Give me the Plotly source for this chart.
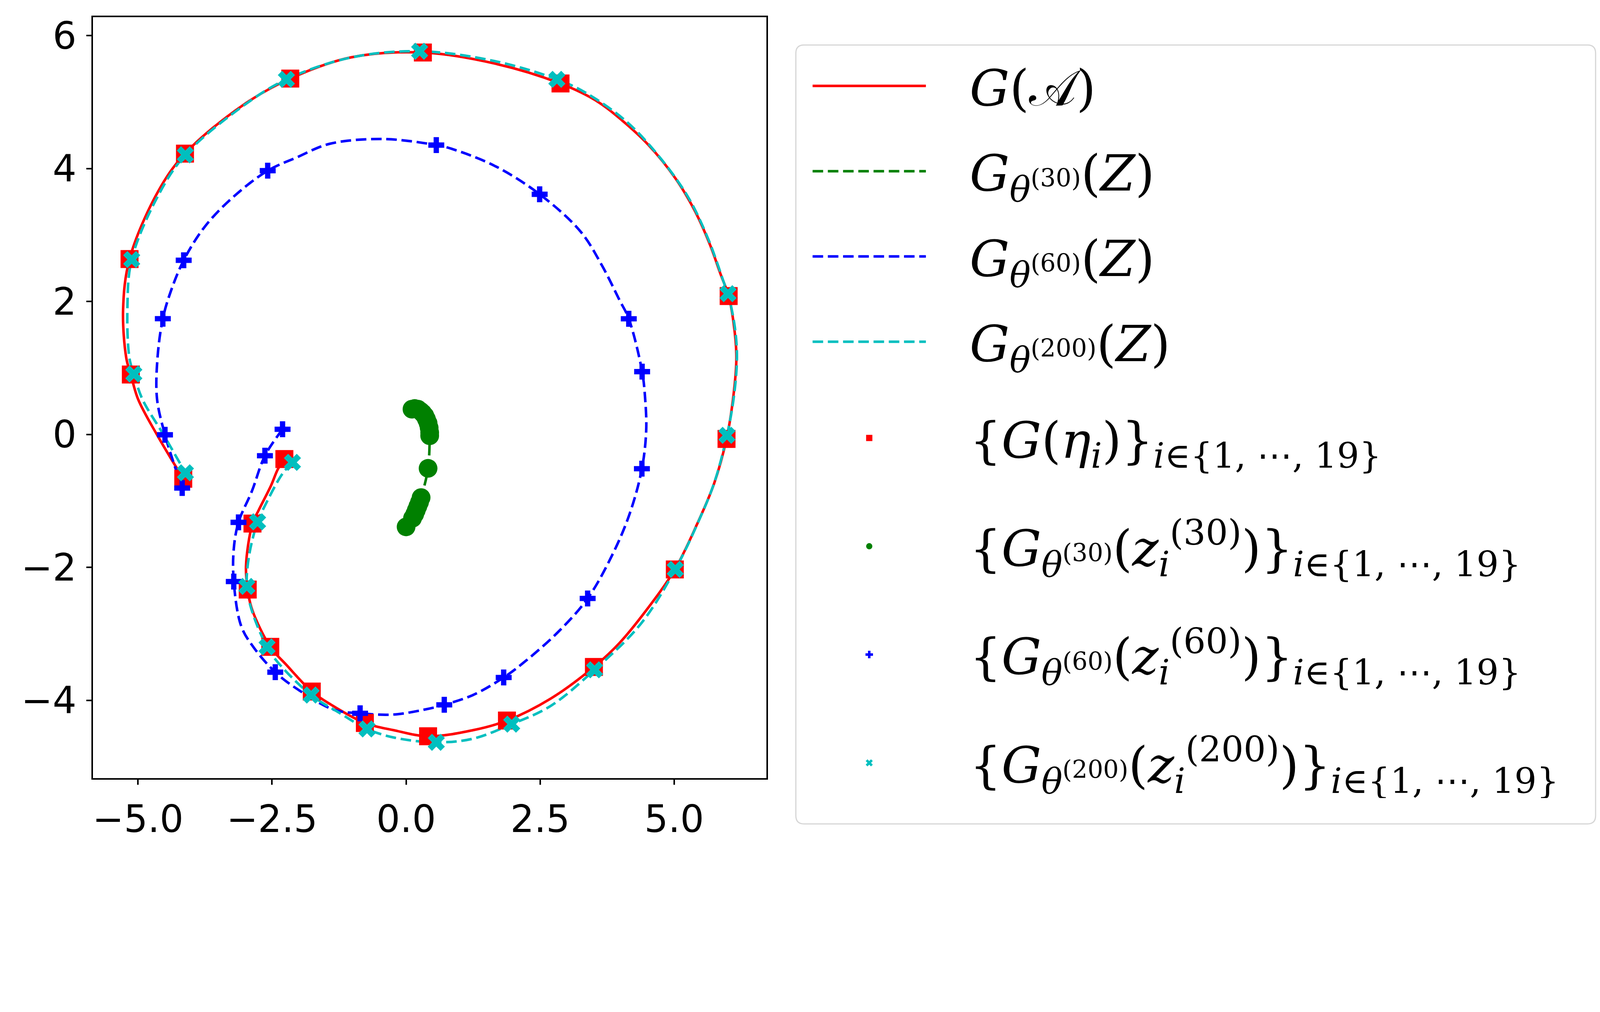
import plotly.graph_objects as go

# G(A): true curve (red, solid)
true_x = [-2.27, -2.39, -2.52, -2.75, -2.865, -2.986, -2.954, -2.874, -2.533, -2.232, -1.759, -1.43,
          -0.769, -0.229, 0.41, 1.246, 1.881, 2.692, 3.503, 3.977, 4.459, 5.012, 5.422, 5.744, 5.976,
          6.10, 6.16, 6.12, 6.016, 5.867, 5.667, 5.39, 5.02, 4.52, 4.02, 3.525, 2.852, 1.65, 0.313,
          -1.03, -2.16, -3.034, -4.124, -4.637, -5.158, -5.278, -5.218, -5.134, -5.0, -4.64, -4.156]
true_y = [-0.37, -0.52, -0.77, -1.14, -1.34, -1.976, -2.333, -2.63, -3.195, -3.467, -3.867, -4.05,
          -4.34, -4.449, -4.54, -4.449, -4.304, -3.976, -3.497, -3.14, -2.667, -2.031, -1.358, -0.74, -0.067,
          0.55, 1.15, 1.6, 2.082, 2.407, 2.856, 3.356, 3.856, 4.355, 4.73, 5.03, 5.287, 5.58, 5.745,
          5.672, 5.354, 4.958, 4.225, 3.638, 2.638, 1.879, 1.146, 0.901, 0.533, -0.013, -0.667]

# G_theta(30)(Z) (green, dashed)
g30_x = [0.11, 0.16, 0.22, 0.27, 0.31, 0.35, 0.38, 0.41, 0.43, 0.44, 0.44, 0.41,
         0.28, 0.25, 0.22, 0.19, 0.16, 0.12, 0.0]
g30_y = [0.38, 0.39, 0.38, 0.35, 0.32, 0.28, 0.23, 0.17, 0.10, 0.03, -0.02, -0.51,
         -0.95, -1.02, -1.08, -1.14, -1.20, -1.26, -1.39]

# G_theta(60)(Z) (blue, dashed)
g60_x = [-2.304, -2.633, -2.874, -3.126, -3.214, -3.214, -3.074, -2.834, -2.44, -2.03, -1.351, -0.858,
         -0.229, 0.443, 0.712, 1.246, 1.82, 2.25, 2.852, 3.386, 3.856, 4.177, 4.398, 4.478, 4.459,
         4.402, 4.153, 3.977, 3.655, 3.254, 2.491, 1.648, 0.845, 0.563, -0.429, -1.431, -2.032,
         -2.581, -3.234, -3.755, -4.148, -4.396, -4.537, -4.637, -4.645, -4.497, -4.356, -4.176]
g60_y = [0.078, -0.32, -0.849, -1.322, -1.722, -2.213, -2.886, -3.213, -3.576, -3.83, -4.14, -4.195,
         -4.213, -4.122, -4.067, -3.92, -3.656, -3.394, -2.958, -2.467, -1.795, -1.176, -0.515, 0.06, 0.533,
         0.945, 1.74, 2.026, 2.539, 3.052, 3.613, 4.042, 4.298, 4.353, 4.444, 4.371, 4.17,
         3.968, 3.565, 3.125, 2.62, 2.136, 1.741, 1.146, 0.533, -0.005, -0.376, -0.806]

# G_theta(200)(Z) (cyan, dashed)
g200_x = [-2.12, -2.31, -2.63, -2.77, -2.93, -2.97, -2.87, -2.593, -2.39, -1.771, -1.23, -0.729,
          -0.229, 0.563, 1.246, 1.969, 2.692, 3.515, 4.378, 5.02, 5.43, 5.75, 5.984, 6.11, 6.17,
          6.13, 6.004, 5.94, 5.64, 5.27, 4.77, 4.12, 3.35, 2.812, 1.63, 0.253, -1.03, -2.232, -3.06,
          -4.117, -4.62, -5.118, -5.198, -5.16, -5.078, -4.92, -4.517, -4.116]
g200_y = [-0.42, -0.595, -1.067, -1.315, -1.83, -2.286, -2.667, -3.195, -3.43, -3.92, -4.195, -4.43,
          -4.559, -4.631, -4.577, -4.358, -4.086, -3.54, -2.849, -2.03, -1.35, -0.72, -0.013, 0.55, 1.15,
          1.62, 2.117, 2.256, 2.93, 3.556, 4.13, 4.70, 5.14, 5.342, 5.62, 5.764, 5.67, 5.342, 4.93,
          4.206, 3.6, 2.631, 1.88, 1.15, 0.909, 0.533, -0.013, -0.577]

# sample points, i = 1..19
eta_x = [-2.27, -2.865, -2.954, -2.533, -1.759, -0.769, 0.41, 1.881, 3.503, 5.012,
         5.976, 6.016, 2.88, 0.313, -2.16, -4.124, -5.158, -5.134, -4.156]
eta_y = [-0.37, -1.34, -2.333, -3.195, -3.867, -4.34, -4.54, -4.304, -3.497, -2.031,
         -0.067, 2.082, 5.28, 5.745, 5.354, 4.225, 2.638, 0.901, -0.667]

z30_x = [0.11, 0.16, 0.22, 0.27, 0.31, 0.35, 0.38, 0.41, 0.43, 0.44, 0.44, 0.41,
         0.28, 0.25, 0.22, 0.19, 0.16, 0.12, 0.0]
z30_y = [0.38, 0.39, 0.38, 0.35, 0.32, 0.28, 0.23, 0.17, 0.10, 0.03, -0.02, -0.51,
         -0.95, -1.02, -1.08, -1.14, -1.20, -1.26, -1.39]

z60_x = [-2.304, -2.633, -3.126, -3.214, -2.44, -0.858, 0.712, 1.82, 3.386, 4.398,
         4.402, 4.153, 2.491, 0.563, -2.581, -4.148, -4.537, -4.497, -4.176]
z60_y = [0.078, -0.32, -1.322, -2.213, -3.576, -4.195, -4.067, -3.656, -2.467, -0.515,
         0.945, 1.74, 3.613, 4.353, 3.968, 2.62, 1.741, -0.005, -0.806]

z200_x = [-2.12, -2.77, -2.97, -2.593, -1.771, -0.729, 0.563, 1.969, 3.515, 5.02,
          5.984, 6.004, 2.812, 0.253, -2.232, -4.117, -5.118, -5.078, -4.116]
z200_y = [-0.42, -1.315, -2.286, -3.195, -3.92, -4.43, -4.631, -4.358, -3.54, -2.03,
          -0.013, 2.117, 5.342, 5.764, 5.342, 4.206, 2.631, 0.909, -0.577]

x_ticks = [-5.0, -2.5, 0.0, 2.5, 5.0]
y_ticks = [-4, -2, 0, 2, 4, 6]

NB = "\u00a0"
GAP = NB * 2 + "\u2009"
SUBSET = "<sub><i>i</i>∈{1," + NB + "⋯," + NB + "19}</sub>"

def gth(n):
    return "<i>G</i><sub><i>θ</i><sup>(%d)</sup></sub>" % n

names = [
    GAP + "<i>G</i>(𝒜)",
    GAP + gth(30) + "(<i>Z</i>)",
    GAP + gth(60) + "(<i>Z</i>)",
    GAP + gth(200) + "(<i>Z</i>)",
    GAP + "{<i>G</i>(<i>η</i><sub><i>i</i></sub>)}" + SUBSET,
    GAP + "{" + gth(30) + "(<i>z</i><sub><i>i</i></sub><sup>(30)</sup>)}" + SUBSET,
    GAP + "{" + gth(60) + "(<i>z</i><sub><i>i</i></sub><sup>(60)</sup>)}" + SUBSET,
    GAP + "{" + gth(200) + "(<i>z</i><sub><i>i</i></sub><sup>(200)</sup>)}" + SUBSET,
]

CYAN = "#00bfbf"
LW = 6.5
DASH = "27px,12px"

fig = go.Figure()

# curves go in the first legend, sample points in the second one
fig.add_trace(go.Scatter(x=true_x, y=true_y, mode="lines", name=names[0], legendgroup="a",
                         line=dict(color="red", width=LW, shape="spline")))
fig.add_trace(go.Scatter(x=g30_x, y=g30_y, mode="lines", name=names[1], legendgroup="b",
                         line=dict(color="green", width=LW, dash=DASH, shape="spline")))
fig.add_trace(go.Scatter(x=g60_x, y=g60_y, mode="lines", name=names[2], legendgroup="c",
                         line=dict(color="blue", width=LW, dash=DASH, shape="spline")))
fig.add_trace(go.Scatter(x=g200_x, y=g200_y, mode="lines", name=names[3], legendgroup="d",
                         line=dict(color=CYAN, width=LW, dash=DASH, shape="spline")))

fig.add_trace(go.Scatter(x=eta_x, y=eta_y, mode="markers", name=names[4], legendgroup="e",
                         legend="legend2", marker=dict(symbol="square", size=46, color="red")))
fig.add_trace(go.Scatter(x=z30_x, y=z30_y, mode="markers", name=names[5], legendgroup="f",
                         legend="legend2", marker=dict(symbol="circle", size=48, color="green")))
fig.add_trace(go.Scatter(x=z60_x, y=z60_y, mode="markers", name=names[6], legendgroup="g",
                         legend="legend2", marker=dict(symbol="cross", size=34, color="blue")))
fig.add_trace(go.Scatter(x=z200_x, y=z200_y, mode="markers", name=names[7], legendgroup="h",
                         legend="legend2", marker=dict(symbol="x", size=39, color=CYAN)))

axis_common = dict(
    showline=True, linecolor="black", linewidth=4, mirror=True,
    showgrid=False, zeroline=False,
    ticks="outside", ticklen=13, tickwidth=4, tickcolor="black",
    tickfont=dict(family="DejaVu Sans", size=96, color="black"),
)

fig.update_xaxes(range=[-5.84, 6.72], tickvals=x_ticks, tickformat=".1f",
                 ticklabelstandoff=6, **axis_common)
fig.update_yaxes(range=[-5.17, 6.277], tickvals=y_ticks, tickformat="d",
                 ticklabelstandoff=6, **axis_common)

legend_common = dict(
    xanchor="left", yanchor="top",
    font=dict(family="DejaVu Serif", size=128, color="black"),
    bgcolor="rgba(0,0,0,0)", borderwidth=0, itemwidth=290,
)

# one frame with rounded corners around both legends (paper coords)
x0, x1, yt, yb = 1.0437, 2.2313, 0.9635, -0.0601
rx, ry = 0.012, 0.011
frame = (f"M{x0 + rx},{yt} L{x1 - rx},{yt} Q{x1},{yt} {x1},{yt - ry} "
         f"L{x1},{yb + ry} Q{x1},{yb} {x1 - rx},{yb} L{x0 + rx},{yb} "
         f"Q{x0},{yb} {x0},{yb + ry} L{x0},{yt - ry} Q{x0},{yt} {x0 + rx},{yt} Z")

# the page is 4096 css px wide; body keeps an 8px margin
fig.update_layout(
    width=4080, height=2288,
    margin=dict(l=230, r=2126, t=36, b=303),
    plot_bgcolor="white", paper_bgcolor="white",
    showlegend=True,
    legend=dict(x=1.0657, y=0.9557, tracegroupgap=49, **legend_common),
    legend2=dict(x=1.0657, y=0.4931, tracegroupgap=108, **legend_common),
    shapes=[dict(type="path", path=frame, xref="paper", yref="paper",
                 line=dict(color="#d6d6d6", width=3), layer="above")],
)

fig.write_html("out.html")
